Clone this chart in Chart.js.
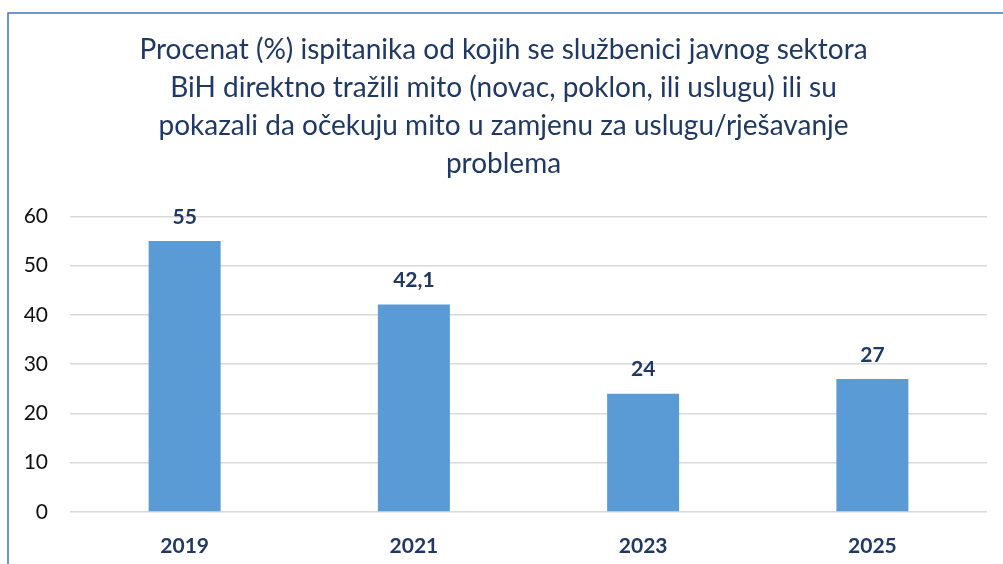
<!DOCTYPE html>
<html>
<head>
<meta charset="utf-8">
<script src="https://cdn.jsdelivr.net/npm/chart.js@4.4.1/dist/chart.umd.min.js"></script>
<style>
html,body{margin:0;padding:0;background:#fff;overflow:hidden;}
#wrap{position:relative;width:1003px;height:564px;}
</style>
</head>
<body>
<div id="wrap"><canvas id="c" width="1003" height="564"></canvas></div>
<script>
const categories = ["2019", "2021", "2023", "2025"];
const values = [55, 42.1, 24, 27];
const valueLabels = ["55", "42,1", "24", "27"];
const titleLines = [
  "Procenat (%) ispitanika od kojih se službenici javnog sektora",
  "BiH direktno tražili mito (novac, poklon, ili uslugu) ili su",
  "pokazali da očekuju mito u zamjenu za uslugu/rješavanje",
  "problema"
];
const yTicks = [0, 10, 20, 30, 40, 50, 60];

const NAVY = "#1F3864";
const FONT = "Lato, 'Open Sans', 'Liberation Sans', sans-serif";

const framePlugin = {
  id: "frame",
  beforeDraw(chart) {
    const ctx = chart.ctx;
    ctx.save();
    ctx.fillStyle = "#fff";
    ctx.fillRect(0, 0, chart.width, chart.height);
    ctx.strokeStyle = "#4472C4";
    ctx.lineWidth = 1.5;
    ctx.beginPath();
    ctx.moveTo(8, chart.height);
    ctx.lineTo(8, 13);
    ctx.lineTo(chart.width, 13);
    ctx.stroke();
    ctx.restore();
  }
};

const labelPlugin = {
  id: "valueLabels",
  afterDatasetsDraw(chart) {
    const ctx = chart.ctx;
    const meta = chart.getDatasetMeta(0);
    ctx.save();
    ctx.fillStyle = NAVY;
    ctx.font = "bold 21px " + FONT;
    ctx.textAlign = "center";
    ctx.textBaseline = "middle";
    meta.data.forEach((bar, i) => {
      ctx.fillText(valueLabels[i], bar.x, bar.y - 24);
    });
    ctx.restore();
  }
};

new Chart(document.getElementById("c"), {
  type: "bar",
  data: {
    labels: categories,
    datasets: [{
      data: values,
      backgroundColor: "#5B9BD5",
      borderWidth: 0,
      categoryPercentage: 1,
      barPercentage: 0.314
    }]
  },
  options: {
    responsive: false,
    animation: false,
    layout: { padding: { top: 13, left: 20, right: 16, bottom: 0 } },
    plugins: {
      legend: { display: false },
      tooltip: { enabled: false },
      title: {
        display: true,
        text: titleLines,
        color: NAVY,
        font: { family: FONT, size: 28, weight: "normal", lineHeight: 1.36 },
        padding: { top: 18, bottom: 33 }
      }
    },
    scales: {
      y: {
        min: 0, max: 60,
        afterBuildTicks(axis) { axis.ticks = yTicks.map(v => ({ value: v })); },
        afterFit(axis) { axis.width = 50; },
        border: { display: false },
        grid: { color: "#d9d9d9", lineWidth: 1.5, drawTicks: false },
        ticks: { color: "#111", padding: 22, font: { family: FONT, size: 21 } }
      },
      x: {
        afterFit(axis) { axis.height = 52; },
        border: { display: false },
        grid: { display: false, drawTicks: false },
        ticks: { color: NAVY, padding: 22, font: { family: FONT, size: 21, weight: "bold" } }
      }
    }
  },
  plugins: [framePlugin, labelPlugin]
});
</script>
</body>
</html>
